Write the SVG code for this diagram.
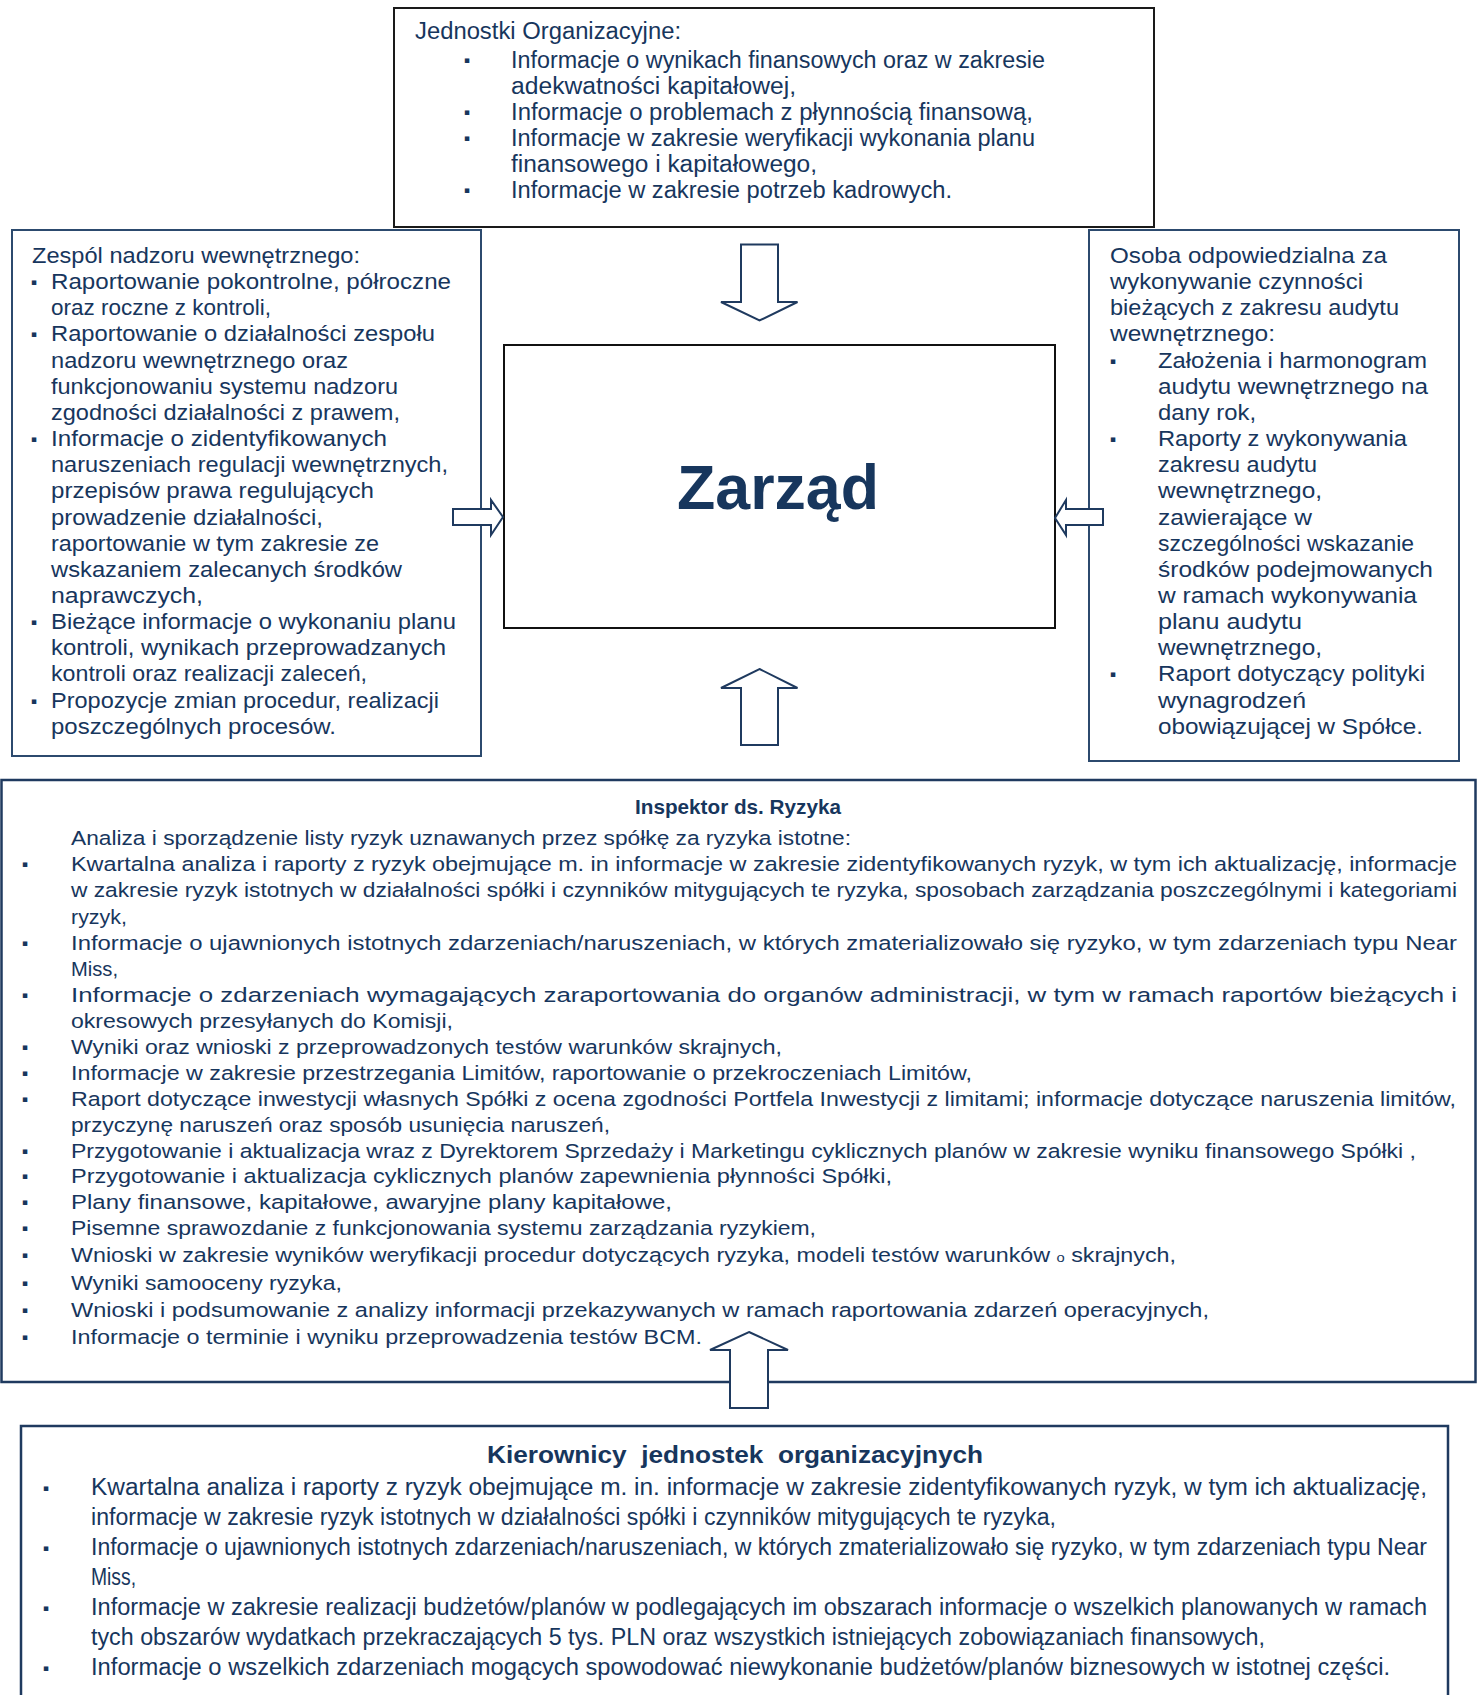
<svg xmlns="http://www.w3.org/2000/svg" width="1479" height="1695" viewBox="0 0 1479 1695">
<style>
text { font-family: "Liberation Sans", "DejaVu Sans", sans-serif; fill: #17365d; }
.f23 { font-size: 23px; }
.f21 { font-size: 21.5px; }
.f20 { font-size: 20.5px; }
.b { font-weight: bold; }
text.bul { font-family: "DejaVu Sans", sans-serif; font-size: 9px; }
.boxk { fill: #ffffff; stroke: #1a1a1a; stroke-width: 2; }
.boxn { fill: #ffffff; stroke: #2c4a6e; stroke-width: 2; }
.boxd { fill: #ffffff; stroke: #1f3a5f; stroke-width: 2.5; }
.arr { fill: #ffffff; stroke: #1f3a5f; stroke-width: 2; stroke-linejoin: miter; }
</style>
<rect width="1479" height="1695" fill="#ffffff"/>

<g id="node-jednostki">
<rect class="boxk" x="394" y="8" width="760" height="219"/>
<text class="f23" x="415" y="39" textLength="266" lengthAdjust="spacingAndGlyphs">Jednostki Organizacyjne:</text>
<text class="bul" x="464" y="63">▪</text>
<text class="f23" x="511" y="68" textLength="534" lengthAdjust="spacingAndGlyphs">Informacje o wynikach finansowych oraz w zakresie</text>
<text class="f23" x="511" y="94" textLength="285" lengthAdjust="spacingAndGlyphs">adekwatności kapitałowej,</text>
<text class="bul" x="464" y="115">▪</text>
<text class="f23" x="511" y="120" textLength="522" lengthAdjust="spacingAndGlyphs">Informacje o problemach z płynnością finansową,</text>
<text class="bul" x="464" y="141">▪</text>
<text class="f23" x="511" y="146" textLength="524" lengthAdjust="spacingAndGlyphs">Informacje w zakresie weryfikacji wykonania planu</text>
<text class="f23" x="511" y="172" textLength="306" lengthAdjust="spacingAndGlyphs">finansowego i kapitałowego,</text>
<text class="bul" x="464" y="193">▪</text>
<text class="f23" x="511" y="198" textLength="441" lengthAdjust="spacingAndGlyphs">Informacje w zakresie potrzeb kadrowych.</text>
</g>

<g id="node-zespol">
<rect class="boxn" x="12" y="230" width="469" height="526"/>
<text class="f21" x="32" y="263" textLength="328" lengthAdjust="spacingAndGlyphs">Zespól nadzoru wewnętrznego:</text>
<text class="bul" x="31" y="285">▪</text>
<text class="f21" x="51" y="289" textLength="400" lengthAdjust="spacingAndGlyphs">Raportowanie pokontrolne, półroczne</text>
<text class="f21" x="51" y="315" textLength="220" lengthAdjust="spacingAndGlyphs">oraz roczne z kontroli,</text>
<text class="bul" x="31" y="337">▪</text>
<text class="f21" x="51" y="341" textLength="384" lengthAdjust="spacingAndGlyphs">Raportowanie o działalności zespołu</text>
<text class="f21" x="51" y="368" textLength="297" lengthAdjust="spacingAndGlyphs">nadzoru wewnętrznego oraz</text>
<text class="f21" x="51" y="394" textLength="347" lengthAdjust="spacingAndGlyphs">funkcjonowaniu systemu nadzoru</text>
<text class="f21" x="51" y="420" textLength="349" lengthAdjust="spacingAndGlyphs">zgodności działalności z prawem,</text>
<text class="bul" x="31" y="442">▪</text>
<text class="f21" x="51" y="446" textLength="336" lengthAdjust="spacingAndGlyphs">Informacje o zidentyfikowanych</text>
<text class="f21" x="51" y="472" textLength="397" lengthAdjust="spacingAndGlyphs">naruszeniach regulacji wewnętrznych,</text>
<text class="f21" x="51" y="498" textLength="323" lengthAdjust="spacingAndGlyphs">przepisów prawa regulujących</text>
<text class="f21" x="51" y="524.5" textLength="272" lengthAdjust="spacingAndGlyphs">prowadzenie działalności,</text>
<text class="f21" x="51" y="550.6" textLength="328" lengthAdjust="spacingAndGlyphs">raportowanie w tym zakresie ze</text>
<text class="f21" x="51" y="577" textLength="351" lengthAdjust="spacingAndGlyphs">wskazaniem zalecanych środków</text>
<text class="f21" x="51" y="603" textLength="152" lengthAdjust="spacingAndGlyphs">naprawczych,</text>
<text class="bul" x="31" y="625">▪</text>
<text class="f21" x="51" y="629" textLength="405" lengthAdjust="spacingAndGlyphs">Bieżące informacje o wykonaniu planu</text>
<text class="f21" x="51" y="655" textLength="395" lengthAdjust="spacingAndGlyphs">kontroli, wynikach przeprowadzanych</text>
<text class="f21" x="51" y="681" textLength="316" lengthAdjust="spacingAndGlyphs">kontroli oraz realizacji zaleceń,</text>
<text class="bul" x="31" y="703.5">▪</text>
<text class="f21" x="51" y="707.5" textLength="388" lengthAdjust="spacingAndGlyphs">Propozycje zmian procedur, realizacji</text>
<text class="f21" x="51" y="733.7" textLength="285" lengthAdjust="spacingAndGlyphs">poszczególnych procesów.</text>
</g>

<g id="node-osoba">
<rect class="boxn" x="1089" y="230" width="370" height="531"/>
<text class="f21" x="1110" y="263" textLength="277" lengthAdjust="spacingAndGlyphs">Osoba odpowiedzialna za</text>
<text class="f21" x="1110" y="289" textLength="253" lengthAdjust="spacingAndGlyphs">wykonywanie czynności</text>
<text class="f21" x="1110" y="315" textLength="289" lengthAdjust="spacingAndGlyphs">bieżących z zakresu audytu</text>
<text class="f21" x="1110" y="341" textLength="165" lengthAdjust="spacingAndGlyphs">wewnętrznego:</text>
<text class="bul" x="1110" y="364">▪</text>
<text class="f21" x="1158" y="368" textLength="269" lengthAdjust="spacingAndGlyphs">Założenia i harmonogram</text>
<text class="f21" x="1158" y="394" textLength="270" lengthAdjust="spacingAndGlyphs">audytu wewnętrznego na</text>
<text class="f21" x="1158" y="420" textLength="98" lengthAdjust="spacingAndGlyphs">dany rok,</text>
<text class="bul" x="1110" y="442">▪</text>
<text class="f21" x="1158" y="446" textLength="249" lengthAdjust="spacingAndGlyphs">Raporty z wykonywania</text>
<text class="f21" x="1158" y="472" textLength="159" lengthAdjust="spacingAndGlyphs">zakresu audytu</text>
<text class="f21" x="1158" y="498" textLength="164" lengthAdjust="spacingAndGlyphs">wewnętrznego,</text>
<text class="f21" x="1158" y="524.5" textLength="154" lengthAdjust="spacingAndGlyphs">zawierające w</text>
<text class="f21" x="1158" y="550.6" textLength="256" lengthAdjust="spacingAndGlyphs">szczególności wskazanie</text>
<text class="f21" x="1158" y="577" textLength="275" lengthAdjust="spacingAndGlyphs">środków podejmowanych</text>
<text class="f21" x="1158" y="603" textLength="259" lengthAdjust="spacingAndGlyphs">w ramach wykonywania</text>
<text class="f21" x="1158" y="629" textLength="144" lengthAdjust="spacingAndGlyphs">planu audytu</text>
<text class="f21" x="1158" y="655" textLength="164" lengthAdjust="spacingAndGlyphs">wewnętrznego,</text>
<text class="bul" x="1110" y="677">▪</text>
<text class="f21" x="1158" y="681" textLength="267" lengthAdjust="spacingAndGlyphs">Raport dotyczący polityki</text>
<text class="f21" x="1158" y="707.5" textLength="148" lengthAdjust="spacingAndGlyphs">wynagrodzeń</text>
<text class="f21" x="1158" y="733.7" textLength="265" lengthAdjust="spacingAndGlyphs">obowiązującej w Spółce.</text>
</g>

<g id="node-zarzad">
<rect x="504" y="345" width="551" height="283" fill="#ffffff" stroke="#111111" stroke-width="2"/>
<text x="677" y="509" style="font-size:63px;font-weight:bold" textLength="202" lengthAdjust="spacingAndGlyphs">Zarząd</text>
</g>

<g id="node-inspektor">
<rect class="boxd" x="1.5" y="780" width="1474" height="602"/>
<text class="f20 b" x="738" y="814" text-anchor="middle" textLength="206" lengthAdjust="spacingAndGlyphs">Inspektor ds. Ryzyka</text>
<text class="f20" x="71" y="845" textLength="780" lengthAdjust="spacingAndGlyphs">Analiza i sporządzenie listy ryzyk uznawanych przez spółkę za ryzyka istotne:</text>
<text class="bul" x="22" y="867">▪</text>
<text class="f20" x="71" y="871" textLength="1386" lengthAdjust="spacingAndGlyphs">Kwartalna analiza i raporty z ryzyk obejmujące m. in informacje w zakresie zidentyfikowanych ryzyk, w tym ich aktualizację, informacje</text>
<text class="f20" x="71" y="897" textLength="1386" lengthAdjust="spacingAndGlyphs">w zakresie ryzyk istotnych w działalności spółki i czynników mitygujących te ryzyka, sposobach zarządzania poszczególnymi i kategoriami</text>
<text class="f20" x="71" y="924" textLength="56" lengthAdjust="spacingAndGlyphs">ryzyk,</text>
<text class="bul" x="22" y="946">▪</text>
<text class="f20" x="71" y="950" textLength="1386" lengthAdjust="spacingAndGlyphs">Informacje o ujawnionych istotnych zdarzeniach/naruszeniach, w których zmaterializowało się ryzyko, w tym zdarzeniach typu Near</text>
<text class="f20" x="71" y="976" textLength="47" lengthAdjust="spacingAndGlyphs">Miss,</text>
<text class="bul" x="22" y="998">▪</text>
<text class="f20" x="71" y="1002" textLength="1386" lengthAdjust="spacingAndGlyphs">Informacje o zdarzeniach wymagających zaraportowania do organów administracji, w tym w ramach raportów bieżących i</text>
<text class="f20" x="71" y="1028" textLength="382" lengthAdjust="spacingAndGlyphs">okresowych przesyłanych do Komisji,</text>
<text class="bul" x="22" y="1050">▪</text>
<text class="f20" x="71" y="1054" textLength="711" lengthAdjust="spacingAndGlyphs">Wyniki oraz wnioski z przeprowadzonych testów warunków skrajnych,</text>
<text class="bul" x="22" y="1076">▪</text>
<text class="f20" x="71" y="1080" textLength="901" lengthAdjust="spacingAndGlyphs">Informacje w zakresie przestrzegania Limitów, raportowanie o przekroczeniach Limitów,</text>
<text class="bul" x="22" y="1102">▪</text>
<text class="f20" x="71" y="1106" textLength="1385" lengthAdjust="spacingAndGlyphs">Raport dotyczące inwestycji własnych Spółki z ocena zgodności Portfela Inwestycji z limitami; informacje dotyczące naruszenia limitów,</text>
<text class="f20" x="71" y="1132" textLength="539" lengthAdjust="spacingAndGlyphs">przyczynę naruszeń oraz sposób usunięcia naruszeń,</text>
<text class="bul" x="22" y="1154">▪</text>
<text class="f20" x="71" y="1158" textLength="1345" lengthAdjust="spacingAndGlyphs">Przygotowanie i aktualizacja wraz z Dyrektorem Sprzedaży i Marketingu cyklicznych planów w zakresie wyniku finansowego Spółki ,</text>
<text class="bul" x="22" y="1179">▪</text>
<text class="f20" x="71" y="1183" textLength="821" lengthAdjust="spacingAndGlyphs">Przygotowanie i aktualizacja cyklicznych planów zapewnienia płynności Spółki,</text>
<text class="bul" x="22" y="1205">▪</text>
<text class="f20" x="71" y="1209" textLength="601" lengthAdjust="spacingAndGlyphs">Plany finansowe, kapitałowe, awaryjne plany kapitałowe,</text>
<text class="bul" x="22" y="1231">▪</text>
<text class="f20" x="71" y="1235" textLength="745" lengthAdjust="spacingAndGlyphs">Pisemne sprawozdanie z funkcjonowania systemu zarządzania ryzykiem,</text>
<text class="bul" x="22" y="1258">▪</text>
<text class="f20" x="71" y="1262" textLength="1105" lengthAdjust="spacingAndGlyphs">Wnioski w zakresie wyników weryfikacji procedur dotyczących ryzyka, modeli testów warunków <tspan style="font-size:13px">o</tspan> skrajnych,</text>
<text class="bul" x="22" y="1286">▪</text>
<text class="f20" x="71" y="1290" textLength="271" lengthAdjust="spacingAndGlyphs">Wyniki samooceny ryzyka,</text>
<text class="bul" x="22" y="1313">▪</text>
<text class="f20" x="71" y="1317" textLength="1138" lengthAdjust="spacingAndGlyphs">Wnioski i podsumowanie z analizy informacji przekazywanych w ramach raportowania zdarzeń operacyjnych,</text>
<text class="bul" x="22" y="1340">▪</text>
<text class="f20" x="71" y="1344" textLength="631" lengthAdjust="spacingAndGlyphs">Informacje o terminie i wyniku przeprowadzenia testów BCM.</text>
</g>

<g id="node-kierownicy">
<path class="boxd" d="M21,1695 L21,1426 L1448,1426 L1448,1695"/>
<text class="b" x="735" y="1463" text-anchor="middle" style="font-size:24px" xml:space="preserve" textLength="496" lengthAdjust="spacingAndGlyphs">Kierownicy  jednostek  organizacyjnych</text>
<text class="bul" x="43" y="1491">▪</text>
<text class="f23" x="91" y="1495" textLength="1336" lengthAdjust="spacingAndGlyphs">Kwartalna analiza i raporty z ryzyk obejmujące m. in. informacje w zakresie zidentyfikowanych ryzyk, w tym ich aktualizację,</text>
<text class="f23" x="91" y="1525" textLength="965" lengthAdjust="spacingAndGlyphs">informacje w zakresie ryzyk istotnych w działalności spółki i czynników mitygujących te ryzyka,</text>
<text class="bul" x="43" y="1551">▪</text>
<text class="f23" x="91" y="1555" textLength="1336" lengthAdjust="spacingAndGlyphs">Informacje o ujawnionych istotnych zdarzeniach/naruszeniach, w których zmaterializowało się ryzyko, w tym zdarzeniach typu Near</text>
<text class="f23" x="91" y="1585" textLength="45" lengthAdjust="spacingAndGlyphs">Miss,</text>
<text class="bul" x="43" y="1611">▪</text>
<text class="f23" x="91" y="1615" textLength="1336" lengthAdjust="spacingAndGlyphs">Informacje w zakresie realizacji budżetów/planów w podlegających im obszarach informacje o wszelkich planowanych w ramach</text>
<text class="f23" x="91" y="1645" textLength="1174" lengthAdjust="spacingAndGlyphs">tych obszarów wydatkach przekraczających 5 tys. PLN oraz wszystkich istniejących zobowiązaniach finansowych,</text>
<text class="bul" x="43" y="1671">▪</text>
<text class="f23" x="91" y="1675" textLength="1299" lengthAdjust="spacingAndGlyphs">Informacje o wszelkich zdarzeniach mogących spowodować niewykonanie budżetów/planów biznesowych w istotnej części.</text>
</g>

<g id="connectors">
<path class="arr" d="M741,244.5 L778,244.5 L778,302 L797.5,302 L759.5,320.5 L721,302 L741,302 Z"/>
<path class="arr" d="M759.5,669 L797.5,688 L778,688 L778,745 L741,745 L741,688 L721,688 Z"/>
<path class="arr" d="M453,509 L491,509 L491,500 L503,517 L491,535 L491,525 L453,525 Z"/>
<path class="arr" d="M1055,518 L1066,500 L1066,509 L1103,509 L1103,525 L1066,525 L1066,535 Z"/>
<path class="arr" d="M749,1332 L788,1350 L768,1350 L768,1408 L730,1408 L730,1350 L710,1350 Z"/>
</g>
</svg>
